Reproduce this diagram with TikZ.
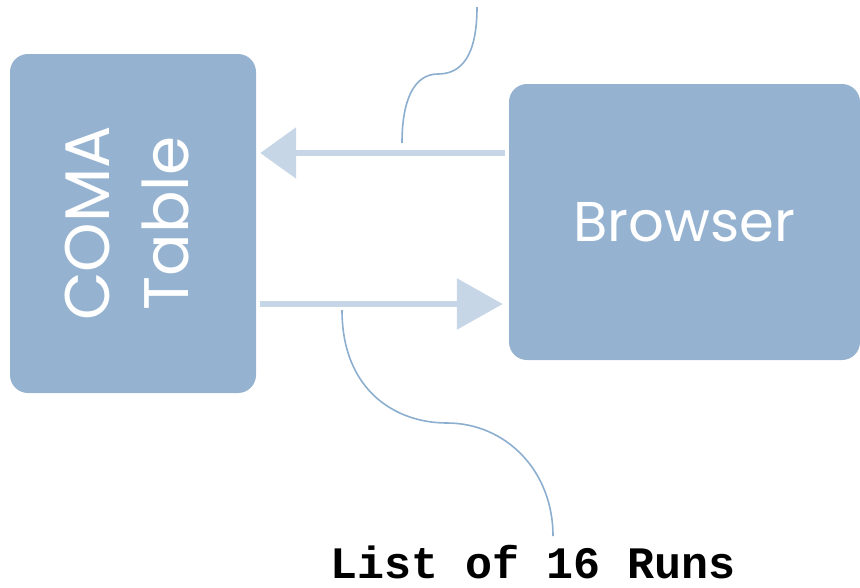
\documentclass[tikz,border=0pt]{standalone}
\usepackage{fontspec}
\setmainfont{Poppins}
\newfontfamily\codefont{Liberation Mono}
\usetikzlibrary{arrows.meta}
\definecolor{boxblue}{HTML}{95B3D1}
\definecolor{arrowblue}{HTML}{C6D6E6}
\definecolor{braceblue}{HTML}{8CAECF}
\begin{document}
\begin{tikzpicture}[x=1pt,y=-1pt,
  box/.style={fill=boxblue,rounded corners=18pt,text=white,inner sep=0pt,
    font=\fontsize{56}{78}\selectfont},
  arr/.style={arrowblue,line width=6pt},
  brace/.style={braceblue,line width=1.6pt}]
\useasboundingbox (0,0) rectangle (860,587);
\node[box,minimum width=246pt,minimum height=339pt,font=\fontsize{63}{79}\selectfont] (coma) at (133,223.5)
  {\rotatebox{90}{\begin{tabular}{@{}c@{}}COMA\\Table\end{tabular}}};
\node[box,minimum width=351pt,minimum height=276pt] (browser) at (684.5,222) {Browser};
\node[anchor=base,font=\codefont\bfseries\fontsize{45}{50}\selectfont] (runs) at (533.5,578) {List of 16 Runs};
\coordinate (req) at (0,153);
\coordinate (resp) at (0,304);
\draw[arr,-{Triangle[length=36pt,width=50pt]},shorten <=4pt,shorten >=4pt]
  (browser.west |- req) -- (coma.east |- req);
\draw[arr,-{Triangle[length=46pt,width=50pt]},shorten <=4pt,shorten >=6pt]
  (coma.east |- resp) -- (browser.west |- resp);
% braces
\coordinate (top) at (477,7);
\coordinate (topend) at (402,143);
\draw[brace] (top) .. controls (477,55) and (462,74) .. (438,74)
  .. controls (414,74) and (402,100) .. (topend);
\coordinate (low) at (342,310);
\coordinate (lowend) at (553,536);
\draw[brace] (low) .. controls (342,390) and (395,423) .. (447,423)
  .. controls (505,423) and (553,470) .. (lowend);
\end{tikzpicture}
\end{document}
